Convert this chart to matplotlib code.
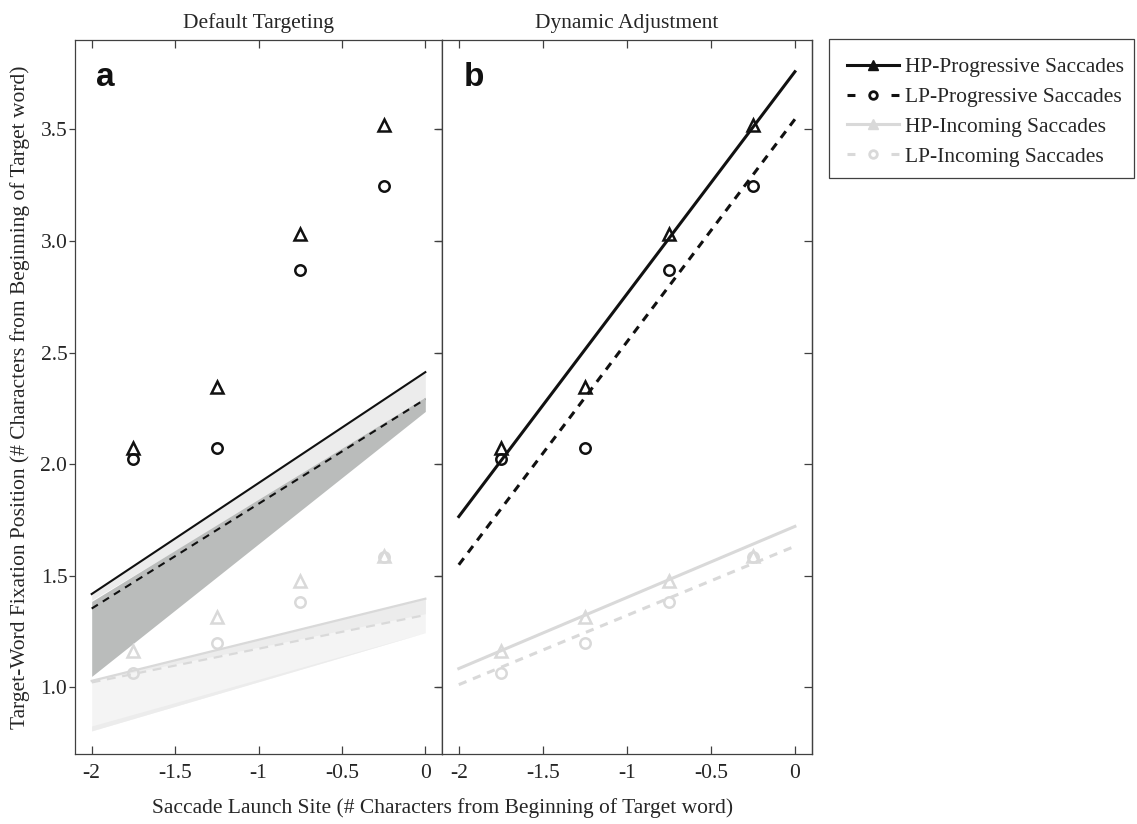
import matplotlib
matplotlib.use("Agg")
import matplotlib.pyplot as plt
from matplotlib.lines import Line2D
from matplotlib.patches import Rectangle

# ---------------- data ----------------
launch_sites = [-1.75, -1.25, -0.75, -0.25]
hp_prog = [2.07, 2.345, 3.03, 3.52]
lp_prog = [2.025, 2.07, 2.87, 3.245]
hp_inc = [1.165, 1.315, 1.475, 1.59]
lp_inc = [1.065, 1.20, 1.383, 1.583]

fit_x = [-2.0, 0.0]
# Default targeting predictions (panel a)
default_hp_prog = [1.418, 2.412]
default_lp_prog = [1.353, 2.291]
default_hp_inc = [1.029, 1.397]
default_lp_inc = [1.022, 1.324]
band_prog_light_low = [1.39, 2.28]
band_prog_dark_high = [1.385, 2.30]
band_prog_dark_low = [1.049, 2.236]
band_inc_low = [0.805, 1.245]
band_inc_mid = [1.03, 1.33]
band_inc_edge = [0.827, 1.245]

# Dynamic adjustment fits (panel b)
dynamic_hp_prog = [1.765, 3.758]
dynamic_lp_prog = [1.549, 3.545]
dynamic_hp_inc = [1.084, 1.721]
dynamic_lp_inc = [1.012, 1.632]

x_ticks = [-2, -1.5, -1, -0.5, 0]
x_tick_labels = ['-2', '-1.5', '-1', '-0.5', '0']
y_ticks = [1.0, 1.5, 2.0, 2.5, 3.0, 3.5]
y_tick_labels = ['1.0', '1.5', '2.0', '2.5', '3.0', '3.5']

titles = ['Default Targeting', 'Dynamic Adjustment']
panel_letters = ['a', 'b']
legend_labels = ['HP-Progressive Saccades', 'LP-Progressive Saccades',
                 'HP-Incoming Saccades', 'LP-Incoming Saccades']

# ---------------- style ----------------
plt.rcParams['font.family'] = ['Liberation Serif', 'DejaVu Serif']
FS = 15.5
BLACK = '#111111'
LIGHT = '#d9d9d9'
SPINE = '#404040'
TXT = '#262626'

W, H = 1137, 824
fig = plt.figure(figsize=(W / 100, H / 100), dpi=100)

ax_bottom = 1 - 754.3 / H
ax_height = (754.3 - 40) / H
axA = fig.add_axes([75 / W, ax_bottom, (442 - 75) / W, ax_height])
axB = fig.add_axes([442 / W, ax_bottom, (811.7 - 442) / W, ax_height])

for ax, title, letter in zip([axA, axB], titles, panel_letters):
    ax.set_xlim(-2.1, 0.1)
    ax.set_ylim(0.7, 3.9)
    ax.set_xticks(x_ticks)
    ax.set_xticklabels(x_tick_labels, fontsize=FS, color=TXT)
    ax.set_yticks(y_ticks)
    ax.tick_params(axis='x', direction='in', top=True, bottom=True, length=5.5,
                   width=0.9, color=SPINE, pad=7)
    ax.tick_params(axis='y', direction='out', left=True, right=False, length=4,
                   width=0.9, color=SPINE, pad=1.5)
    for sp in ax.spines.values():
        sp.set_color(SPINE)
        sp.set_linewidth(0.9)
    sec = ax.secondary_yaxis('right')
    sec.set_yticks(y_ticks)
    sec.tick_params(direction='in', length=5.5, width=0.9, color=SPINE,
                    labelright=False)
    sec.spines['right'].set_color(SPINE)
    sec.spines['right'].set_linewidth(0.9)
    ax.set_title(title, fontsize=FS, color=TXT, pad=9)
    ax.text(0.058, 0.935, letter, transform=ax.transAxes, fontsize=24,
            fontweight='bold', family=['Liberation Sans', 'DejaVu Sans'],
            color=BLACK, va='baseline', ha='left')

axA.set_yticklabels(y_tick_labels, fontsize=FS, color=TXT)
axB.set_yticklabels([])

# ---------------- panel a ----------------
axA.fill_between(fit_x, band_inc_low, default_hp_inc, color='#f4f4f4',
                 linewidth=0, zorder=1)
axA.fill_between(fit_x, band_inc_mid, default_hp_inc, color='#ececec',
                 linewidth=0, zorder=1.1)
axA.fill_between(fit_x, band_inc_low, band_inc_edge, color='#ececec',
                 linewidth=0, zorder=1.1)
axA.fill_between(fit_x, band_prog_light_low, default_hp_prog, color='#ececec',
                 linewidth=0, zorder=1)
axA.fill_between(fit_x, band_prog_dark_low, band_prog_dark_high, color='#babcbb',
                 linewidth=0, zorder=1.2)

axA.plot(fit_x, default_hp_inc, color=LIGHT, lw=1.6, zorder=2)
axA.plot(fit_x, default_lp_inc, color=LIGHT, lw=1.6, ls=(0, (4, 3)), zorder=2)
axA.plot(fit_x, default_hp_prog, color=BLACK, lw=1.5, zorder=2)
axA.plot(fit_x, default_lp_prog, color=BLACK, lw=1.5, ls=(0, (3.5, 2.8)), zorder=2)

mk = dict(ls='none', mfc='none', zorder=3)
for ax in [axA, axB]:
    ax.plot(launch_sites, hp_inc, marker='^', ms=9, mec=LIGHT, mew=1.8, **mk)
    ax.plot(launch_sites, lp_inc, marker='o', ms=7.5, mec=LIGHT, mew=1.8, **mk)
    ax.plot(launch_sites, hp_prog, marker='^', ms=9, mec=BLACK, mew=1.8, **mk)
    ax.plot(launch_sites, lp_prog, marker='o', ms=7.5, mec=BLACK, mew=1.8, **mk)

# ---------------- panel b ----------------
axB.plot(fit_x, dynamic_hp_inc, color=LIGHT, lw=2.2, zorder=2)
axB.plot(fit_x, dynamic_lp_inc, color=LIGHT, lw=2.2, ls=(0, (2.7, 2.3)), zorder=2)
axB.plot(fit_x, dynamic_hp_prog, color=BLACK, lw=2.2, zorder=2)
axB.plot(fit_x, dynamic_lp_prog, color=BLACK, lw=2.2, ls=(0, (2.7, 2.3)), zorder=2)

# ---------------- labels ----------------
fig.text(443 / W, 1 - 808 / H, 'Saccade Launch Site (# Characters from Beginning of Target word)',
         ha='center', va='center', fontsize=FS, color=TXT)
fig.text(20 / W, 1 - 397 / H,
         'Target-Word Fixation Position (# Characters from Beginning of Target word)',
         ha='center', va='center', rotation=90, fontsize=FS, color=TXT)

# ---------------- legend ----------------
handles = [
    Line2D([], [], color=BLACK, lw=2.2, marker='^', ms=6.5, mfc=BLACK, mec=BLACK),
    Line2D([], [], color=BLACK, lw=2.2, ls=(0, (2.6, 11.8)), marker='o', ms=5.5,
           mfc='none', mec=BLACK, mew=2),
    Line2D([], [], color=LIGHT, lw=2.2, marker='^', ms=6.5, mfc=LIGHT, mec=LIGHT),
    Line2D([], [], color=LIGHT, lw=2.2, ls=(0, (2.6, 11.8)), marker='o', ms=5.5,
           mfc='none', mec=LIGHT, mew=2),
]
leg = fig.legend(handles, legend_labels, loc='upper left',
                 bbox_to_anchor=(829 / W, 1 - 39 / H), fontsize=FS,
                 frameon=False, handlelength=2.4, handletextpad=0.3,
                 labelspacing=0.45, borderpad=0.85, borderaxespad=0)
for t in leg.get_texts():
    t.set_color(TXT)
fig.patches.append(Rectangle((829 / W, 1 - 178 / H), (1134 - 829) / W, (178 - 39) / H,
                             transform=fig.transFigure, fill=False,
                             edgecolor=SPINE, linewidth=0.9))

fig.savefig('out.png', dpi=100)
